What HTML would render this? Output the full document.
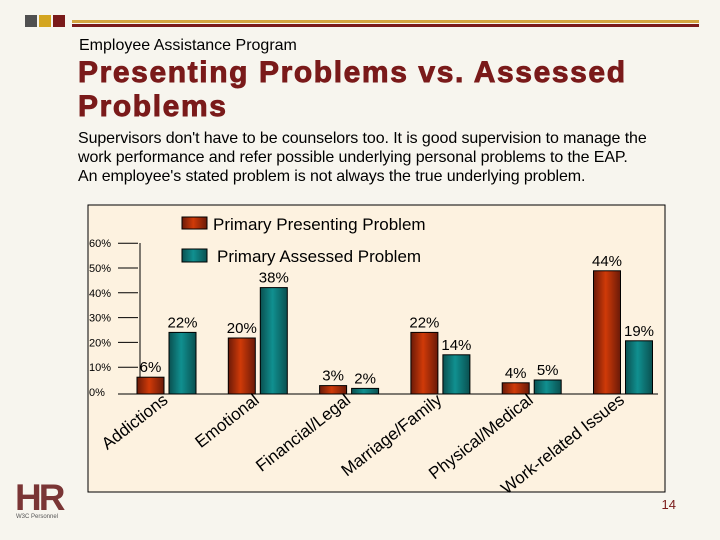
<!DOCTYPE html>
<html><head><meta charset="utf-8"><style>
body{margin:0;width:720px;height:540px;background:#f7f5ee;overflow:hidden;font-family:"Liberation Sans",Arial,sans-serif;position:relative}
svg text{font-family:"Liberation Sans",Arial,sans-serif}
.a{position:absolute}
</style></head><body>
<div class="a" style="left:25px;top:15px;width:12px;height:12px;background:#505050"></div>
<div class="a" style="left:39px;top:15px;width:12px;height:12px;background:#d4a520"></div>
<div class="a" style="left:53px;top:15px;width:12px;height:12px;background:#7a1a1a"></div>
<div class="a" style="left:72px;top:20px;width:627px;height:3px;background:#d4a540"></div>
<div class="a" style="left:72px;top:24px;width:627px;height:3px;background:#7a1a1a"></div>
<div class="a" style="left:79px;top:37px;font-size:16px;color:#000">Employee Assistance Program</div>
<div class="a" style="left:78px;top:56px;font-size:30px;font-weight:bold;color:#7a1a1a;line-height:34px;letter-spacing:1.6px;-webkit-text-stroke:0.9px #7a1a1a">Presenting Problems vs. Assessed<br>Problems</div>
<div class="a" style="left:78px;top:129px;font-size:16px;line-height:19px;color:#000;letter-spacing:-0.1px">Supervisors don't have to be counselors too. It is good supervision to manage the<br>work performance and refer possible underlying personal problems to the EAP.<br>An employee's stated problem is not always the true underlying problem.</div>
<svg class="a" style="left:0;top:0" width="720" height="540">
<defs>
<linearGradient id="gr" x1="0" x2="1"><stop offset="0" stop-color="#6a1a08"/><stop offset="0.45" stop-color="#d03a08"/><stop offset="1" stop-color="#6a1a08"/></linearGradient>
<linearGradient id="gt" x1="0" x2="1"><stop offset="0" stop-color="#0a5050"/><stop offset="0.45" stop-color="#109090"/><stop offset="1" stop-color="#0a5050"/></linearGradient>
</defs>
<rect x="88" y="205" width="577" height="287" fill="#fdf2e0" stroke="#000"/>
<g id="ticks"></g><g id="bars"></g><g id="labels"></g>
<rect x="182" y="217" width="25" height="12" fill="url(#gr)" stroke="#000"/>
<text x="213" y="230" font-size="17">Primary Presenting Problem</text>
<rect x="182" y="249" width="25" height="13" fill="url(#gt)" stroke="#000"/>
<text x="217" y="262" font-size="17">Primary Assessed Problem</text>
<text x="676" y="509" font-size="13" fill="#7a1a1a" text-anchor="end">14</text>
<text x="15" y="510" font-size="37" font-weight="bold" fill="#7a3535" letter-spacing="-3">HR</text>
<text x="16" y="518" font-size="6" fill="#555">W3C Personnel</text>
</svg>
<script>
const categories=["Addictions","Emotional","Financial/Legal","Marriage/Family","Physical/Medical","Work-related Issues"];
const presenting=[6,20,3,22,4,44];
const assessed=[22,38,2,14,5,19];
const tickValues=[0,10,20,30,40,50,60];
const tickLabels=["0%","10%","20%","30%","40%","50%","60%"];
const NS="http://www.w3.org/2000/svg";
const base=394;
const y=v=>base-v*2.8;
const tickY=v=>392-v*2.48;
const cx=i=>165+91.3*i;
function mk(t,a,p){const e=document.createElementNS(NS,t);for(const k in a)e.setAttribute(k,a[k]);document.getElementById(p).appendChild(e);return e;}
const ax=mk("line",{x1:140,y1:243,x2:140,y2:base,stroke:"#000"},"ticks");


const bl=mk("line",{x1:118,y1:base,x2:658,y2:base,stroke:"#000"},"ticks");


tickValues.forEach((v,i)=>{
 if(v>0){const l=mk("line",{x1:118,y1:tickY(v),x2:138,y2:tickY(v),stroke:"#000"},"ticks");
 
 }
 const t=mk("text",{x:89,y:tickY(v)+4,"font-size":11},"ticks");t.textContent=tickLabels[i];
 
 
});
categories.forEach((c,i)=>{
 const c0=cx(i);
 [[presenting[i],"url(#gr)",c0-28,'bar-presenting'],[assessed[i],"url(#gt)",c0+4,'bar-assessed']].forEach(([v,f,xx,n])=>{
  const r=mk("rect",{x:xx,y:y(v),width:27,height:base-y(v),fill:f,stroke:"#000","stroke-width":1},"bars");
  
  
  const t=mk("text",{x:xx+13.5,y:y(v)-5,"font-size":15,"text-anchor":"middle"},"bars");t.textContent=v+"%";
  
  
 });
 const t=mk("text",{x:c0+4,y:402,"font-size":17,"text-anchor":"end",transform:`rotate(-38 ${c0+4} 402)`},"labels");t.textContent=c;
 
 
});
</script>
</body></html>
